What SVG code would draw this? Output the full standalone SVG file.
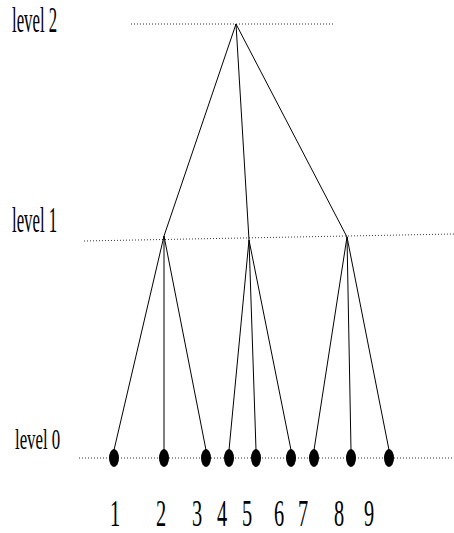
<svg xmlns="http://www.w3.org/2000/svg" width="454" height="533" viewBox="0 0 454 533">
<style>
.lbl{font-family:"Liberation Serif",serif;fill:#000}
.dot{stroke:#333;stroke-width:1;stroke-dasharray:1,2;fill:none}
.edge{stroke:#000;stroke-width:1;fill:none}
.leaf{fill:#000}
</style>
<rect width="454" height="533" fill="#fff"/>
<g id="levels">
<line class="dot" x1="131" y1="24" x2="333" y2="24"/>
<line class="dot" x1="84" y1="241" x2="454" y2="234"/>
<line class="dot" x1="79" y1="458" x2="454" y2="458"/>
<text class="lbl" font-size="35" transform="translate(12,32) scale(0.48,1)">level 2</text>
<text class="lbl" font-size="35" transform="translate(12,232) scale(0.48,1)">level 1</text>
<text class="lbl" font-size="30" transform="translate(15,449) scale(0.56,1)">level 0</text>
</g>
<g id="connectors">
<line class="edge" x1="236" y1="24" x2="164" y2="236"/>
<line class="edge" x1="236" y1="24" x2="249" y2="240"/>
<line class="edge" x1="236" y1="24" x2="347" y2="237"/>
<line class="edge" x1="164" y1="236" x2="114" y2="450"/>
<line class="edge" x1="164" y1="236" x2="164" y2="450"/>
<line class="edge" x1="164" y1="236" x2="206" y2="450"/>
<line class="edge" x1="249" y1="240" x2="229" y2="450"/>
<line class="edge" x1="249" y1="240" x2="256" y2="450"/>
<line class="edge" x1="249" y1="240" x2="291" y2="450"/>
<line class="edge" x1="347" y1="237" x2="314" y2="450"/>
<line class="edge" x1="347" y1="237" x2="351" y2="450"/>
<line class="edge" x1="347" y1="237" x2="389" y2="450"/>
</g>
<g id="n1"><ellipse class="leaf" cx="114" cy="458" rx="5" ry="9"/><text class="lbl" font-size="37" text-anchor="middle" transform="translate(115,526) scale(0.55,1)">1</text></g>
<g id="n2"><ellipse class="leaf" cx="164" cy="458" rx="5" ry="9"/><text class="lbl" font-size="37" text-anchor="middle" transform="translate(161,526) scale(0.55,1)">2</text></g>
<g id="n3"><ellipse class="leaf" cx="206" cy="458" rx="5" ry="9"/><text class="lbl" font-size="37" text-anchor="middle" transform="translate(197,526) scale(0.55,1)">3</text></g>
<g id="n4"><ellipse class="leaf" cx="229" cy="458" rx="5" ry="9"/><text class="lbl" font-size="37" text-anchor="middle" transform="translate(222,526) scale(0.55,1)">4</text></g>
<g id="n5"><ellipse class="leaf" cx="256" cy="458" rx="5" ry="9"/><text class="lbl" font-size="37" text-anchor="middle" transform="translate(247,526) scale(0.55,1)">5</text></g>
<g id="n6"><ellipse class="leaf" cx="291" cy="458" rx="5" ry="9"/><text class="lbl" font-size="37" text-anchor="middle" transform="translate(279,526) scale(0.55,1)">6</text></g>
<g id="n7"><ellipse class="leaf" cx="314" cy="458" rx="5" ry="9"/><text class="lbl" font-size="37" text-anchor="middle" transform="translate(303,526) scale(0.55,1)">7</text></g>
<g id="n8"><ellipse class="leaf" cx="351" cy="458" rx="5" ry="9"/><text class="lbl" font-size="37" text-anchor="middle" transform="translate(339,526) scale(0.55,1)">8</text></g>
<g id="n9"><ellipse class="leaf" cx="389" cy="458" rx="5" ry="9"/><text class="lbl" font-size="37" text-anchor="middle" transform="translate(369,526) scale(0.55,1)">9</text></g>
</svg>
